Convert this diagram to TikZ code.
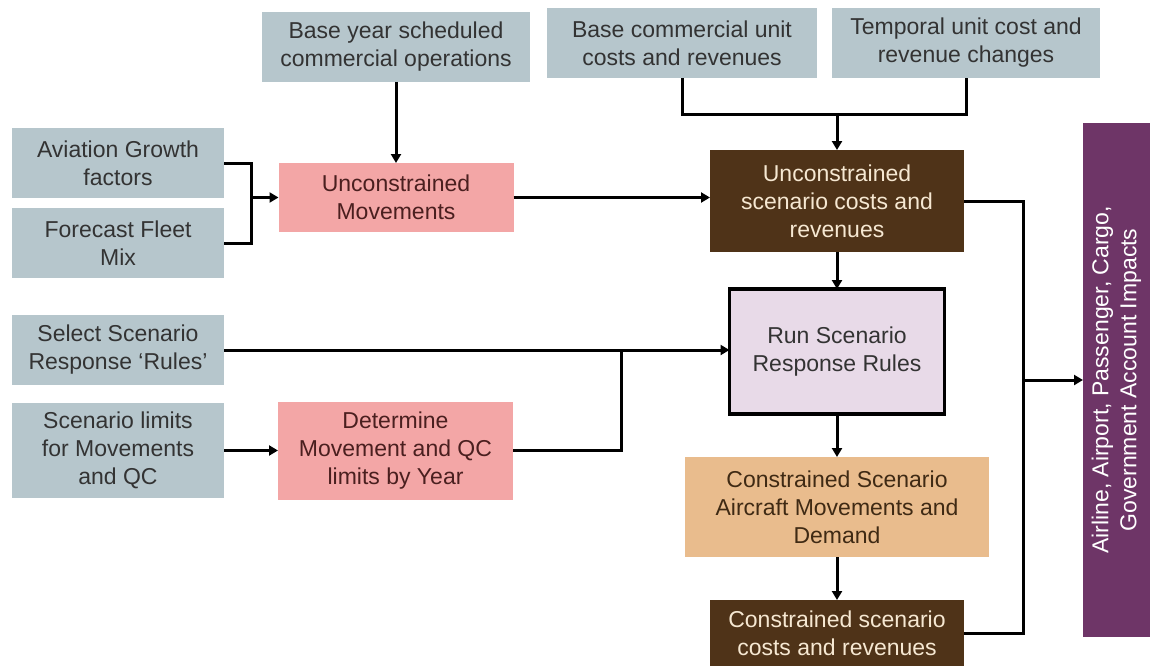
\documentclass[tikz,border=0pt]{standalone}
\usepackage{fontspec}
\setmainfont{Liberation Sans}
\usepackage{tikz}
\usetikzlibrary{arrows.meta,positioning,calc}
\usepackage{xcolor}
\definecolor{stone}{HTML}{B6C6CC}
\definecolor{ink}{HTML}{333333}
\definecolor{rose}{HTML}{F3A6A6}
\definecolor{maroon}{HTML}{4A1F1F}
\definecolor{umber}{HTML}{4F3318}
\definecolor{cream}{HTML}{F6E8D2}
\definecolor{lilac}{HTML}{E8DAE8}
\definecolor{tan}{HTML}{E9BC8D}
\definecolor{bark}{HTML}{3F2A14}
\definecolor{plum}{HTML}{6E3567}
\tikzset{
  base/.style={font=\fontsize{23}{28}\selectfont,align=center,inner sep=0pt,outer sep=0pt},
  input/.style={base,fill=stone,text=ink,minimum height=70pt},
  movement/.style={base,fill=rose,text=maroon,minimum width=235pt},
  costs/.style={base,fill=umber,text=cream,minimum width=254pt},
  rules/.style={base,fill=lilac,text=ink,draw=black,line width=3.5pt,minimum width=215pt,minimum height=125pt},
  demand/.style={base,fill=tan,text=bark,minimum width=304pt,minimum height=100pt},
  impacts/.style={base,fill=plum,text=white,rotate=90,minimum width=514pt,minimum height=67pt},
  wire/.style={line width=3pt,draw=black},
  flow/.style={wire,-{Triangle[length=9pt,width=10pt]}}
}
\begin{document}
\begin{tikzpicture}
\useasboundingbox (0,0) rectangle (1155pt,-666pt);
% inputs on the left
\node[input,minimum width=212pt] (agf) at (118pt,-163pt) {Aviation Growth\\factors};
\node[input,minimum width=212pt,below=10pt of agf] (ffm) {Forecast Fleet\\Mix};
\node[input,minimum width=212pt] (ssr) at (118pt,-350pt) {Select Scenario\\Response `Rules'};
\node[input,minimum width=212pt,minimum height=95pt,below=18pt of ssr] (sl) {Scenario limits\\for Movements\\and QC};
% inputs on top
\node[input,minimum width=268pt] (byops) at (396pt,-47pt) {Base year scheduled\\commercial operations};
\node[input,minimum width=270pt] (bcu) at (682pt,-43pt) {Base commercial unit\\costs and revenues};
\node[input,minimum width=268pt,right=15pt of bcu] (tuc) {Temporal unit cost and\\revenue changes};
% movements
\node[movement,minimum height=69pt,below=81pt of byops] (um) {Unconstrained\\Movements};
\node[movement,minimum height=98pt,right=54pt of sl] (dm) {Determine\\Movement and QC\\limits by Year};
% scenario chain
\node[costs,minimum height=102pt] (usc) at (837pt,-201pt) {Unconstrained\\scenario costs and\\revenues};
\node[rules,below=37pt of usc] (rsr) {Run Scenario\\Response Rules};
\node[demand,below=43pt of rsr] (csa) {Constrained Scenario\\Aircraft Movements and\\Demand};
\node[costs,minimum height=66pt,below=43pt of csa] (csc) {Constrained scenario\\costs and revenues};
% impacts (rotated, so its north side faces left)
\node[impacts] (imp) at (1116.5pt,-380pt) {Airline, Airport, Passenger, Cargo,\\Government Account Impacts};

\coordinate (jn1) at ($(um.west)+(-27pt,0)$);
\coordinate (jn2) at ($(usc.north)+(0,35pt)$);
\path (dm.east) ++(108pt,0) coordinate (jn3x);
\coordinate (jn3) at (jn3x |- ssr.east);
\coordinate (jn4) at ($(imp.north)+(-60pt,0)$);

\draw[flow] (byops) -- (um);
\draw[wire] (agf.east) -| (jn1) |- (ffm.east);
\draw[flow] (jn1) -- (um);
\draw[flow] (um) -- (um -| usc.west);
\draw[wire] (bcu.south) |- (jn2) -| (tuc.south);
\draw[flow] (jn2) -- (usc);
\draw[flow] (usc.south) -- (usc.south |- rsr.north);
\draw[flow] (ssr) -- (ssr -| rsr.west);
\draw[flow] (sl) -- (dm);
\draw[wire] (dm.east) -| (jn3);
\draw[flow] (rsr.south) -- (rsr.south |- csa.north);
\draw[flow] (csa.south) -- (csa.south |- csc.north);
\draw[wire] (usc.east) -| (jn4);
\draw[wire] (csc.east) -| (jn4);
\draw[flow] (jn4) -- (imp.north);
\end{tikzpicture}
\end{document}
